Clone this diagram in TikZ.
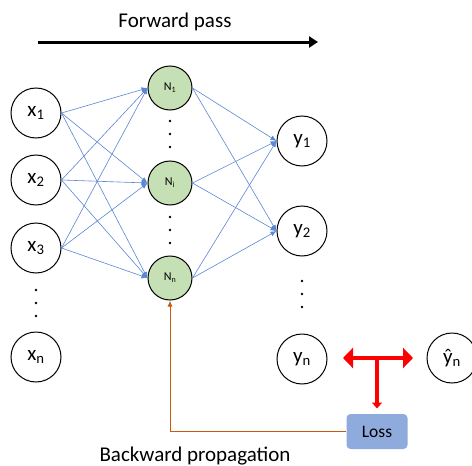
\documentclass[tikz,border=0pt]{standalone}
\usepackage{fontspec}
\setmainfont{Carlito}
\usetikzlibrary{calc}
\usetikzlibrary{arrows.meta}

\definecolor{edgeblue}{RGB}{91,134,212}
\definecolor{hiddengreen}{RGB}{197,224,180}
\definecolor{lossblue}{RGB}{143,170,220}
\definecolor{backorange}{RGB}{197,90,17}

\begin{document}
\begin{tikzpicture}[
        x=1pt, y=-1pt,
        every node/.style={draw,circle,minimum size=50pt,inner sep=0pt,line width=1pt,
            font=\fontsize{21}{25}\selectfont},
        hidden/.style={fill=hiddengreen,minimum size=44pt,font=\fontsize{12}{14}\selectfont},
        plain/.style={draw=none,rectangle,minimum size=0pt},
        edge/.style={->,draw=edgeblue,line width=0.6pt},
        bigred/.style={draw=red,line width=4.5pt},
        >={Latex[length=6pt,width=5pt]}
    ]
        \useasboundingbox (0,0) rectangle (472,466);
        % forward pass
        \node[plain,font=\fontsize{21}{25}\selectfont] (fwd) at (175,22) {Forward pass};
        \coordinate (fs) at (38,42);
        \coordinate (fe) at (318,42);
        \draw[line width=3pt,-{Triangle[length=9pt,width=11pt]}] (fs) -- (fe);
        % inputs
        \node (x1) at (36,113) {x\textsubscript{1}};
        \node (x2) at ($(x1) + (0,67)$) {x\textsubscript{2}};
        \node (x3) at ($(x2) + (0,68)$) {x\textsubscript{3}};
        \node (xn) at (36,357) {x\textsubscript{n}};
        % hidden
        \node[hidden] (N1) at (170,88) {N\textsubscript{1}};
        \node[hidden] (Ni) at ($(N1) + (0,95)$) {N\textsubscript{i}};
        \node[hidden] (Nn) at ($(Ni) + (0,95)$) {N\textsubscript{n}};
        % outputs
        \node (y1) at (302,141) {y\textsubscript{1}};
        \node (y2) at ($(y1) + (0,90)$) {y\textsubscript{2}};
        \node (yn) at (302,359) {y\textsubscript{n}};
        \node (yh) at (452,358) {ŷ\textsubscript{n}};
        % dots
        \foreach \d in {0,13,26} {
            \fill (36,290+\d) circle (1.3);
            \fill (170,121+\d) circle (1.3);
            \fill (170,217+\d) circle (1.3);
            \fill (302,281+\d) circle (1.3);
        }
        % connections
        \foreach \a in {x1,x2,x3} {
            \foreach \b in {N1,Ni,Nn} {
                \draw[edge] (\a.east) -- (\b.west);
            }
        }
        \foreach \a in {N1,Ni,Nn} {
            \foreach \b in {y1,y2} {
                \draw[edge] (\a.east) -- (\b.west);
            }
        }
        % loss
        \node[rectangle,rounded corners=4pt,draw=none,fill=lossblue,minimum width=61pt,
            minimum height=35pt,font=\fontsize{17.5}{21}\selectfont] (loss) at (377,431.5) {Loss};
        \coordinate (rl) at (343,358);
        \coordinate (rr) at (413,358);
        \coordinate (rm) at (377,358);
        \draw[bigred,{Triangle[length=10pt,width=20pt]}-{Triangle[length=10pt,width=20pt]}] (rl) -- (rr);
        \draw[bigred,-{Triangle[length=6pt,width=10pt]}] (rm) -- ($(loss.north) + (0,-5)$);
        % backward
        \draw[->,draw=backorange,line width=1pt] (loss.west) -| (Nn.south);
        \node[plain,font=\fontsize{21}{25}\selectfont] (bwd) at (195,456) {Backward propagation};
    \end{tikzpicture}
\end{document}
